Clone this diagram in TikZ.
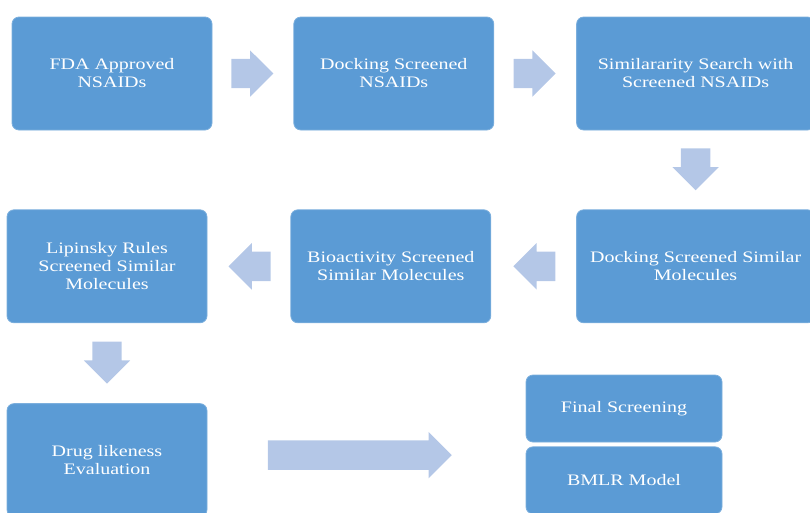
\documentclass[tikz,border=0pt]{standalone}
\usepackage{fontspec}
\setmainfont{Liberation Serif}[FakeStretch=1.25]
\usetikzlibrary{positioning,shapes.arrows}

\definecolor{boxblue}{RGB}{91,155,213}
\definecolor{arrowblue}{RGB}{180,199,231}

\tikzset{
  stage/.style={rectangle, rounded corners=7pt, fill=boxblue, draw=boxblue!80!white,
    line width=0.8pt, text=white, align=center, minimum width=200pt, minimum height=113pt,
    font=\fontsize{16}{18}\selectfont},
  flow/.style={single arrow, fill=arrowblue, draw=none, sloped, allow upside down, xshift=-8pt,
    inner xsep=0pt, inner ysep=14.5pt, minimum height=42pt, single arrow head extend=8.5pt},
}

\begin{document}
\begin{tikzpicture}[x=1pt,y=-1pt,node distance=80pt]
  \useasboundingbox (0,0) rectangle (810,512);
  \clip (0,0) rectangle (810,512);

  \node[stage]                    (fda) at (112,73.5) {FDA Approved\\NSAIDs};
  \node[stage]                    (dock) [right=81pt of fda] {Docking Screened\\NSAIDs};
  \node[stage,minimum width=238pt] (sim) [right=82pt of dock] {Similararity Search with\\Screened NSAIDs};
  \node[stage,minimum width=238pt] (docksim) [below=79pt of sim] {Docking Screened Similar\\Molecules};
  \node[stage]                    (bio) [left=85pt of docksim] {Bioactivity Screened\\Similar Molecules};
  \node[stage]                    (lip) [left=83pt of bio] {Lipinsky Rules\\Screened Similar\\Molecules};
  \node[stage]                    (drug) [below=80pt of lip] {Drug likeness\\Evaluation};
  \node[stage,minimum width=196pt,minimum height=67pt] (final) at (624,408.5) {Final Screening};
  \node[stage,minimum width=196pt,minimum height=67pt] (bmlr) [below=4pt of final] {BMLR Model};

  \path (fda) -- node[flow] {} (dock)
        (dock) -- node[flow] {} (sim)
        (sim) -- node[flow] {} (docksim)
        (docksim) -- node[flow] {} (bio)
        (bio) -- node[flow] {} (lip)
        (lip) -- node[flow] {} (drug);
  \path ([yshift=5pt]drug.east) -- node[flow,minimum height=184pt,xshift=-6pt] {} ([yshift=5pt]drug.east -| bmlr.west);
\end{tikzpicture}
\end{document}
